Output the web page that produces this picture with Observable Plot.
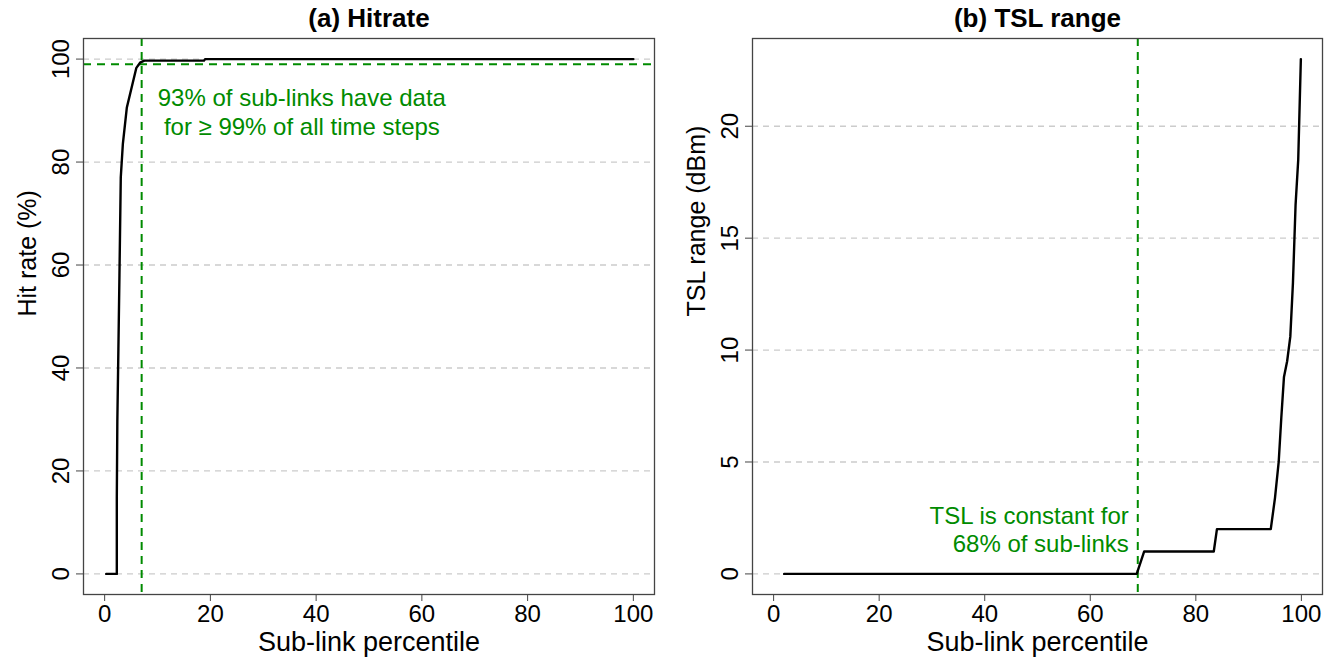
<!DOCTYPE html>
<html>
<head>
<meta charset="utf-8">
<script src="https://cdn.jsdelivr.net/npm/d3@7"></script>
<script src="https://cdn.jsdelivr.net/npm/@observablehq/plot@0.6"></script>
<style>
  html, body { margin: 0; padding: 0; background: white; }
  #wrap { display: flex; width: 1325px; height: 658px; overflow: hidden; }
  svg { display: block; }
</style>
</head>
<body>
<div id="wrap"></div>
<script>
// ---- data ----
const hitPct = [0.3, 2.3, 2.3, 2.4, 2.6, 2.8, 3.05, 3.45, 4.2, 6.0, 6.7, 7.5, 18.8, 19.0, 100];
const hitRate = [0, 0, 15, 29.6, 43.7, 58, 77, 83.6, 90.6, 98.3, 99.3, 99.7, 99.7, 100, 100];
const tslPct = [2, 68.8, 70.2, 83.4, 84.0, 94.2, 95.0, 95.7, 96.2, 96.7, 97.3, 97.9, 98.4, 98.9, 99.4, 99.9];
const tslRange = [0, 0, 1, 1, 2, 2, 3.4, 5, 7, 8.8, 9.5, 10.6, 13, 16.5, 18.5, 23];
const xTicks = [0, 20, 40, 60, 80, 100];
const yTicksA = [0, 20, 40, 60, 80, 100];
const yTicksB = [0, 5, 10, 15, 20];
const hitThresholdPct = 7;
const hitThresholdRate = 99;
const tslThresholdPct = 69;
const titles = ["(a) Hitrate", "(b) TSL range"];
const xLabel = "Sub-link percentile";
const yLabels = ["Hit rate (%)", "TSL range (dBm)"];
const noteA = "93% of sub-links have data\nfor ≥ 99% of all time steps";
const noteB = "TSL is constant for\n68% of sub-links";

const green = "#008B00";
const font = "'Liberation Sans', Arial, sans-serif";

function panel(opts) {
  const data = opts.xs.map((x, i) => ({x, y: opts.ys[i]}));
  return Plot.plot({
    width: opts.width, height: 658,
    marginLeft: opts.ml, marginRight: opts.mr, marginTop: 38, marginBottom: 64,
    x: {domain: [-4, 104]},
    y: {domain: opts.ydomain},
    style: {fontFamily: font, fontSize: "24px", color: "#000", background: "white", overflow: "visible"},
    marks: [
      Plot.ruleY(opts.yticks, {stroke: "#cccccc", strokeWidth: 1.3, strokeDasharray: "6,5"}),
      ...opts.extra,
      Plot.line(data, {x: "x", y: "y", stroke: "black", strokeWidth: 2.4}),
      Plot.frame({stroke: "#444", strokeWidth: 1.3}),
      Plot.axisX(xTicks, {tickSize: 7, tickPadding: 3, label: null, fontSize: 24, stroke: "#444"}),
      Plot.axisY(opts.yticks, {tickSize: 7, tickPadding: 8, tickRotate: -90, label: null, fontSize: 24, stroke: "#444"}),
      Plot.text([xLabel], {frameAnchor: "bottom", dy: 48, fontSize: 27, lineAnchor: "middle"}),
      Plot.text([opts.ylabel], {frameAnchor: "left", dx: -56, rotate: -90, fontSize: 25, lineAnchor: "middle"}),
      Plot.text([opts.title], {frameAnchor: "top", dy: -20, fontSize: 26, fontWeight: "bold", lineAnchor: "middle"}),
      opts.note
    ]
  });
}

const left = panel({
  width: 662, ml: 83, mr: 8,
  xs: hitPct, ys: hitRate, ydomain: [-4, 104], yticks: yTicksA,
  ylabel: yLabels[0], title: titles[0],
  extra: [
    Plot.ruleX([hitThresholdPct], {stroke: green, strokeWidth: 2, strokeDasharray: "8,6"}),
    Plot.ruleY([hitThresholdRate], {stroke: green, strokeWidth: 2, strokeDasharray: "8,6"})
  ],
  note: Plot.text([{x: 37.3, y: 89.9, t: noteA}], {x: "x", y: "y", text: "t", fill: green, fontSize: 24, lineHeight: 1.2, textAnchor: "middle"})
});

const right = panel({
  width: 663, ml: 90, mr: 3,
  xs: tslPct, ys: tslRange, ydomain: [-0.92, 23.92], yticks: yTicksB,
  ylabel: yLabels[1], title: titles[1],
  extra: [
    Plot.ruleX([tslThresholdPct], {stroke: green, strokeWidth: 2, strokeDasharray: "8,6"})
  ],
  note: Plot.text([{x: 67.3, y: 2.02, t: noteB}], {x: "x", y: "y", text: "t", fill: green, fontSize: 24, lineHeight: 1.2, textAnchor: "end"})
});

document.getElementById("wrap").append(left, right);
</script>
</body>
</html>
